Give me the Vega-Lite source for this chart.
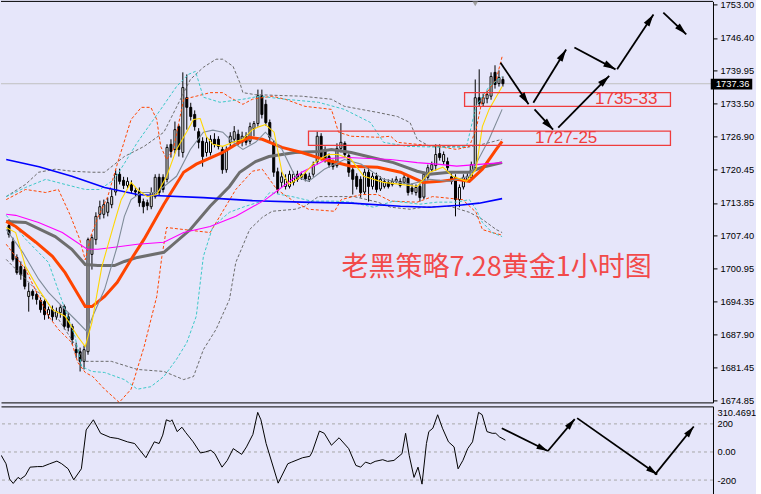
{
"$schema":"https://vega.github.io/schema/vega-lite/v6.json",
"background":"#e6e6fa",
"padding":{"left":0,"top":0.4,"right":0,"bottom":0},
"spacing":0,
"config":{"view":{"stroke":null},"axis":{"labelFont":"Liberation Sans","labelFontSize":9.3,"labelColor":"#000000","domainColor":"#000000","domainWidth":1,"tickColor":"#000000","tickSize":4,"tickWidth":1,"labelPadding":3,"grid":false,"minExtent":0,"titlePadding":0,"labelOverlap":false,"labelBound":false}},
"resolve":{"scale":{"x":"independent","y":"independent"}},
"datasets":{
"candles":[
{"i":0,"o":1709.4,"h":1710.6,"l":1707.0,"c":1707.6},
{"i":1,"o":1706.2,"h":1707.0,"l":1702.3,"c":1702.7},
{"i":2,"o":1703.1,"h":1703.7,"l":1699.7,"c":1700.1},
{"i":3,"o":1701.3,"h":1702.3,"l":1698.7,"c":1699.7},
{"i":4,"o":1700.7,"h":1701.3,"l":1696.8,"c":1697.4},
{"i":5,"o":1695.4,"h":1698.1,"l":1692.4,"c":1696.4},
{"i":6,"o":1696.4,"h":1696.8,"l":1694.8,"c":1695.6},
{"i":7,"o":1695.8,"h":1696.4,"l":1693.8,"c":1694.8},
{"i":8,"o":1694.6,"h":1695.2,"l":1692.2,"c":1692.8},
{"i":9,"o":1694.4,"h":1694.8,"l":1690.8,"c":1691.8},
{"i":10,"o":1691.8,"h":1693.4,"l":1691.0,"c":1692.8},
{"i":11,"o":1692.8,"h":1693.6,"l":1690.6,"c":1691.4},
{"i":12,"o":1691.4,"h":1693.2,"l":1690.8,"c":1692.4},
{"i":13,"o":1692.2,"h":1693.8,"l":1691.2,"c":1693.2},
{"i":14,"o":1693.4,"h":1693.8,"l":1688.9,"c":1689.5},
{"i":15,"o":1691.4,"h":1692.2,"l":1688.5,"c":1689.3},
{"i":16,"o":1689.5,"h":1690.0,"l":1685.9,"c":1686.9},
{"i":17,"o":1684.9,"h":1686.3,"l":1683.3,"c":1684.3},
{"i":18,"o":1684.5,"h":1685.3,"l":1680.6,"c":1682.6},
{"i":19,"o":1682.6,"h":1685.7,"l":1681.0,"c":1684.9},
{"i":20,"o":1684.5,"h":1707.0,"l":1683.9,"c":1706.6},
{"i":21,"o":1703.7,"h":1707.6,"l":1700.7,"c":1707.0},
{"i":22,"o":1706.6,"h":1712.0,"l":1705.6,"c":1711.2},
{"i":23,"o":1711.6,"h":1714.3,"l":1710.6,"c":1713.1},
{"i":24,"o":1711.6,"h":1714.5,"l":1710.8,"c":1713.5},
{"i":25,"o":1712.0,"h":1714.9,"l":1711.2,"c":1713.9},
{"i":26,"o":1713.5,"h":1716.5,"l":1712.8,"c":1715.1},
{"i":27,"o":1716.0,"h":1720.4,"l":1715.3,"c":1719.5},
{"i":28,"o":1719.5,"h":1720.6,"l":1717.5,"c":1718.1},
{"i":29,"o":1718.3,"h":1719.0,"l":1716.6,"c":1717.3},
{"i":30,"o":1717.3,"h":1718.9,"l":1716.8,"c":1718.1},
{"i":31,"o":1717.5,"h":1718.3,"l":1715.7,"c":1716.3},
{"i":32,"o":1716.3,"h":1717.0,"l":1715.2,"c":1716.0},
{"i":33,"o":1716.1,"h":1716.9,"l":1713.1,"c":1713.9},
{"i":34,"o":1714.1,"h":1714.7,"l":1711.8,"c":1713.1},
{"i":35,"o":1713.9,"h":1714.5,"l":1712.4,"c":1713.3},
{"i":36,"o":1713.1,"h":1716.9,"l":1712.6,"c":1715.9},
{"i":37,"o":1715.1,"h":1719.5,"l":1714.7,"c":1718.9},
{"i":38,"o":1718.9,"h":1719.6,"l":1715.3,"c":1715.9},
{"i":39,"o":1718.9,"h":1719.5,"l":1715.9,"c":1716.5},
{"i":40,"o":1718.5,"h":1725.4,"l":1717.9,"c":1724.8},
{"i":41,"o":1725.4,"h":1726.4,"l":1722.8,"c":1724.0},
{"i":42,"o":1724.4,"h":1729.9,"l":1723.6,"c":1728.3},
{"i":43,"o":1728.9,"h":1729.3,"l":1723.0,"c":1724.4},
{"i":44,"o":1723.8,"h":1739.6,"l":1722.8,"c":1736.6},
{"i":45,"o":1734.6,"h":1739.2,"l":1728.3,"c":1732.7},
{"i":46,"o":1732.7,"h":1733.6,"l":1730.1,"c":1730.9},
{"i":47,"o":1731.3,"h":1732.1,"l":1728.1,"c":1728.9},
{"i":48,"o":1727.9,"h":1728.6,"l":1724.6,"c":1725.8},
{"i":49,"o":1726.0,"h":1726.8,"l":1721.0,"c":1723.0},
{"i":50,"o":1723.8,"h":1726.8,"l":1723.0,"c":1725.8},
{"i":51,"o":1723.8,"h":1727.2,"l":1723.2,"c":1726.4},
{"i":52,"o":1726.4,"h":1727.6,"l":1724.8,"c":1725.4},
{"i":53,"o":1726.4,"h":1727.0,"l":1724.4,"c":1725.0},
{"i":54,"o":1724.4,"h":1725.0,"l":1719.6,"c":1720.4},
{"i":55,"o":1720.4,"h":1725.0,"l":1719.8,"c":1724.4},
{"i":56,"o":1725.8,"h":1727.8,"l":1724.8,"c":1727.0},
{"i":57,"o":1726.4,"h":1729.0,"l":1725.8,"c":1727.9},
{"i":58,"o":1727.4,"h":1728.3,"l":1725.2,"c":1725.8},
{"i":59,"o":1725.8,"h":1727.9,"l":1725.0,"c":1727.0},
{"i":60,"o":1727.0,"h":1727.8,"l":1725.2,"c":1725.8},
{"i":61,"o":1726.0,"h":1729.7,"l":1725.4,"c":1728.9},
{"i":62,"o":1728.5,"h":1730.0,"l":1727.0,"c":1729.5},
{"i":63,"o":1729.5,"h":1736.2,"l":1728.9,"c":1735.0},
{"i":64,"o":1735.0,"h":1736.2,"l":1730.5,"c":1731.3},
{"i":65,"o":1733.3,"h":1734.2,"l":1729.1,"c":1729.7},
{"i":66,"o":1729.7,"h":1730.3,"l":1726.0,"c":1726.8},
{"i":67,"o":1725.4,"h":1726.2,"l":1719.0,"c":1719.9},
{"i":68,"o":1720.0,"h":1720.8,"l":1715.7,"c":1716.5},
{"i":69,"o":1717.9,"h":1720.0,"l":1717.0,"c":1719.0},
{"i":70,"o":1717.1,"h":1719.5,"l":1716.5,"c":1718.5},
{"i":71,"o":1717.1,"h":1720.2,"l":1716.7,"c":1719.5},
{"i":72,"o":1717.9,"h":1720.0,"l":1717.3,"c":1719.5},
{"i":73,"o":1719.5,"h":1720.2,"l":1718.0,"c":1718.5},
{"i":74,"o":1718.9,"h":1720.0,"l":1718.4,"c":1719.4},
{"i":75,"o":1719.5,"h":1720.0,"l":1718.1,"c":1718.6},
{"i":76,"o":1718.5,"h":1719.8,"l":1718.0,"c":1719.1},
{"i":77,"o":1719.5,"h":1722.0,"l":1719.0,"c":1721.4},
{"i":78,"o":1722.0,"h":1727.9,"l":1721.4,"c":1727.0},
{"i":79,"o":1727.0,"h":1727.6,"l":1722.2,"c":1723.0},
{"i":80,"o":1724.4,"h":1725.0,"l":1721.8,"c":1722.4},
{"i":81,"o":1723.0,"h":1723.6,"l":1720.8,"c":1721.4},
{"i":82,"o":1721.8,"h":1722.4,"l":1720.4,"c":1721.0},
{"i":83,"o":1721.2,"h":1725.6,"l":1720.8,"c":1724.6},
{"i":84,"o":1724.6,"h":1729.6,"l":1723.8,"c":1725.8},
{"i":85,"o":1725.6,"h":1726.0,"l":1722.8,"c":1723.4},
{"i":86,"o":1723.2,"h":1723.6,"l":1719.0,"c":1719.9},
{"i":87,"o":1720.4,"h":1721.0,"l":1715.5,"c":1718.5},
{"i":88,"o":1719.1,"h":1719.7,"l":1716.5,"c":1717.1},
{"i":89,"o":1718.5,"h":1719.1,"l":1714.9,"c":1715.9},
{"i":90,"o":1716.0,"h":1720.6,"l":1715.5,"c":1719.9},
{"i":91,"o":1719.9,"h":1721.0,"l":1714.1,"c":1717.1},
{"i":92,"o":1717.1,"h":1719.8,"l":1716.5,"c":1719.1},
{"i":93,"o":1719.1,"h":1719.8,"l":1715.9,"c":1716.5},
{"i":94,"o":1716.6,"h":1719.1,"l":1716.2,"c":1718.5},
{"i":95,"o":1717.1,"h":1718.7,"l":1716.7,"c":1718.1},
{"i":96,"o":1717.9,"h":1718.5,"l":1716.7,"c":1717.1},
{"i":97,"o":1717.5,"h":1718.7,"l":1717.1,"c":1718.1},
{"i":98,"o":1718.1,"h":1719.1,"l":1717.7,"c":1718.5},
{"i":99,"o":1718.1,"h":1718.7,"l":1716.9,"c":1717.3},
{"i":100,"o":1717.9,"h":1719.5,"l":1717.5,"c":1718.9},
{"i":101,"o":1718.7,"h":1719.2,"l":1715.3,"c":1715.9},
{"i":102,"o":1716.8,"h":1717.7,"l":1715.5,"c":1716.1},
{"i":103,"o":1715.9,"h":1717.5,"l":1715.3,"c":1716.9},
{"i":104,"o":1717.1,"h":1717.7,"l":1714.1,"c":1714.9},
{"i":105,"o":1715.0,"h":1720.0,"l":1714.6,"c":1719.5},
{"i":106,"o":1718.9,"h":1721.4,"l":1718.3,"c":1720.8},
{"i":107,"o":1720.4,"h":1722.0,"l":1719.9,"c":1721.4},
{"i":108,"o":1721.2,"h":1725.4,"l":1720.2,"c":1723.4},
{"i":109,"o":1723.6,"h":1725.4,"l":1722.2,"c":1722.8},
{"i":110,"o":1722.0,"h":1724.0,"l":1721.4,"c":1723.4},
{"i":111,"o":1722.0,"h":1722.8,"l":1720.2,"c":1720.8},
{"i":112,"o":1719.0,"h":1719.7,"l":1717.5,"c":1718.1},
{"i":113,"o":1718.9,"h":1719.5,"l":1711.2,"c":1714.5},
{"i":114,"o":1714.5,"h":1717.5,"l":1713.0,"c":1716.9},
{"i":115,"o":1717.0,"h":1719.5,"l":1716.5,"c":1718.9},
{"i":116,"o":1718.5,"h":1719.7,"l":1718.0,"c":1719.1},
{"i":117,"o":1718.9,"h":1722.0,"l":1718.3,"c":1721.4},
{"i":118,"o":1720.8,"h":1738.2,"l":1720.2,"c":1734.6},
{"i":119,"o":1734.6,"h":1740.2,"l":1732.9,"c":1733.5},
{"i":120,"o":1733.5,"h":1735.4,"l":1732.9,"c":1734.6},
{"i":121,"o":1734.4,"h":1736.0,"l":1733.5,"c":1735.2},
{"i":122,"o":1734.9,"h":1739.6,"l":1734.2,"c":1738.8},
{"i":123,"o":1739.6,"h":1741.0,"l":1736.4,"c":1737.2},
{"i":124,"o":1737.4,"h":1740.0,"l":1736.8,"c":1738.6},
{"i":125,"o":1738.2,"h":1738.8,"l":1736.8,"c":1737.36}
],
"ind":[
{"s":"bbg_u","i":-0.7,"p":1715.1},{"s":"bbg_u","i":4.2,"p":1717.5},{"s":"bbg_u","i":7.5,"p":1719.9},{"s":"bbg_u","i":11.7,"p":1720.5},{"s":"bbg_u","i":15.9,"p":1720.1},{"s":"bbg_u","i":21.0,"p":1719.9},{"s":"bbg_u","i":24.2,"p":1719.9},{"s":"bbg_u","i":29.2,"p":1723.0},{"s":"bbg_u","i":34.2,"p":1725.0},{"s":"bbg_u","i":39.2,"p":1727.8},{"s":"bbg_u","i":43.4,"p":1734.3},{"s":"bbg_u","i":45.9,"p":1738.2},{"s":"bbg_u","i":49.2,"p":1740.6},{"s":"bbg_u","i":52.4,"p":1742.2},{"s":"bbg_u","i":54.1,"p":1742.2},{"s":"bbg_u","i":56.7,"p":1740.8},{"s":"bbg_u","i":58.4,"p":1737.6},{"s":"bbg_u","i":59.2,"p":1735.6},{"s":"bbg_u","i":62.4,"p":1735.2},{"s":"bbg_u","i":74.1,"p":1734.9},{"s":"bbg_u","i":81.6,"p":1734.3},{"s":"bbg_u","i":84.9,"p":1732.9},{"s":"bbg_u","i":93.3,"p":1731.7},{"s":"bbg_u","i":98.3,"p":1730.9},{"s":"bbg_u","i":101.5,"p":1729.7},{"s":"bbg_u","i":103.3,"p":1726.4},{"s":"bbg_u","i":106.5,"p":1725.0},{"s":"bbg_u","i":111.5,"p":1725.0},{"s":"bbg_u","i":115.8,"p":1724.8},{"s":"bbg_u","i":119.8,"p":1725.4},{"s":"bbg_u","i":124.8,"p":1726.4},
{"s":"bbg_l","i":-0.7,"p":1702.7},{"s":"bbg_l","i":9.3,"p":1694.8},{"s":"bbg_l","i":16.7,"p":1685.9},{"s":"bbg_l","i":19.3,"p":1682.6},{"s":"bbg_l","i":25.9,"p":1682.6},{"s":"bbg_l","i":32.5,"p":1681.0},{"s":"bbg_l","i":39.2,"p":1680.6},{"s":"bbg_l","i":44.2,"p":1679.0},{"s":"bbg_l","i":46.7,"p":1679.6},{"s":"bbg_l","i":49.2,"p":1684.9},{"s":"bbg_l","i":52.4,"p":1688.9},{"s":"bbg_l","i":55.8,"p":1694.8},{"s":"bbg_l","i":57.4,"p":1702.1},{"s":"bbg_l","i":60.9,"p":1708.6},{"s":"bbg_l","i":64.1,"p":1711.0},{"s":"bbg_l","i":66.6,"p":1712.2},{"s":"bbg_l","i":72.4,"p":1712.6},{"s":"bbg_l","i":74.9,"p":1713.2},{"s":"bbg_l","i":78.3,"p":1715.1},{"s":"bbg_l","i":87.3,"p":1715.1},{"s":"bbg_l","i":93.3,"p":1714.0},{"s":"bbg_l","i":96.6,"p":1713.0},{"s":"bbg_l","i":101.5,"p":1712.6},{"s":"bbg_l","i":104.8,"p":1713.0},{"s":"bbg_l","i":111.5,"p":1713.2},{"s":"bbg_l","i":116.5,"p":1712.0},{"s":"bbg_l","i":119.8,"p":1710.6},{"s":"bbg_l","i":123.3,"p":1708.6},{"s":"bbg_l","i":124.8,"p":1708.0},
{"s":"bbo_u","i":-0.7,"p":1714.5},{"s":"bbo_u","i":4.2,"p":1716.5},{"s":"bbo_u","i":9.3,"p":1715.9},{"s":"bbo_u","i":12.5,"p":1716.5},{"s":"bbo_u","i":15.4,"p":1711.6},{"s":"bbo_u","i":17.9,"p":1706.7},{"s":"bbo_u","i":19.3,"p":1702.6},{"s":"bbo_u","i":20.8,"p":1707.5},{"s":"bbo_u","i":22.5,"p":1711.0},{"s":"bbo_u","i":25.0,"p":1715.1},{"s":"bbo_u","i":27.4,"p":1721.5},{"s":"bbo_u","i":30.9,"p":1730.3},{"s":"bbo_u","i":33.5,"p":1732.7},{"s":"bbo_u","i":35.9,"p":1732.7},{"s":"bbo_u","i":37.4,"p":1730.3},{"s":"bbo_u","i":38.4,"p":1725.0},{"s":"bbo_u","i":39.9,"p":1722.4},{"s":"bbo_u","i":41.6,"p":1724.4},{"s":"bbo_u","i":44.2,"p":1734.3},{"s":"bbo_u","i":47.4,"p":1734.9},{"s":"bbo_u","i":50.9,"p":1735.6},{"s":"bbo_u","i":54.1,"p":1735.6},{"s":"bbo_u","i":55.8,"p":1734.7},{"s":"bbo_u","i":59.2,"p":1733.3},{"s":"bbo_u","i":61.6,"p":1734.3},{"s":"bbo_u","i":66.6,"p":1734.9},{"s":"bbo_u","i":69.9,"p":1734.3},{"s":"bbo_u","i":74.9,"p":1732.9},{"s":"bbo_u","i":81.6,"p":1732.3},{"s":"bbo_u","i":83.4,"p":1727.8},{"s":"bbo_u","i":86.6,"p":1727.0},{"s":"bbo_u","i":93.3,"p":1726.8},{"s":"bbo_u","i":96.6,"p":1727.0},{"s":"bbo_u","i":98.3,"p":1725.8},{"s":"bbo_u","i":103.3,"p":1725.4},{"s":"bbo_u","i":108.3,"p":1725.0},{"s":"bbo_u","i":113.3,"p":1724.4},{"s":"bbo_u","i":116.5,"p":1725.0},{"s":"bbo_u","i":118.2,"p":1728.3},{"s":"bbo_u","i":119.8,"p":1734.3},{"s":"bbo_u","i":123.3,"p":1738.2},{"s":"bbo_u","i":124.8,"p":1742.7},
{"s":"bbo_l","i":-0.7,"p":1705.7},{"s":"bbo_l","i":4.2,"p":1700.7},{"s":"bbo_l","i":7.5,"p":1695.4},{"s":"bbo_l","i":10.0,"p":1691.5},{"s":"bbo_l","i":12.5,"p":1688.9},{"s":"bbo_l","i":15.9,"p":1686.3},{"s":"bbo_l","i":17.4,"p":1682.4},{"s":"bbo_l","i":19.3,"p":1680.4},{"s":"bbo_l","i":21.2,"p":1679.6},{"s":"bbo_l","i":24.2,"p":1677.1},{"s":"bbo_l","i":27.9,"p":1674.5},{"s":"bbo_l","i":30.9,"p":1677.1},{"s":"bbo_l","i":34.2,"p":1685.5},{"s":"bbo_l","i":37.4,"p":1695.4},{"s":"bbo_l","i":38.7,"p":1703.3},{"s":"bbo_l","i":39.9,"p":1709.0},{"s":"bbo_l","i":44.2,"p":1708.6},{"s":"bbo_l","i":50.9,"p":1708.0},{"s":"bbo_l","i":57.4,"p":1716.5},{"s":"bbo_l","i":61.6,"p":1720.1},{"s":"bbo_l","i":64.1,"p":1720.5},{"s":"bbo_l","i":67.8,"p":1716.5},{"s":"bbo_l","i":72.4,"p":1714.0},{"s":"bbo_l","i":75.8,"p":1712.6},{"s":"bbo_l","i":82.4,"p":1712.2},{"s":"bbo_l","i":84.1,"p":1714.5},{"s":"bbo_l","i":89.1,"p":1715.5},{"s":"bbo_l","i":93.3,"p":1715.5},{"s":"bbo_l","i":96.6,"p":1714.2},{"s":"bbo_l","i":103.3,"p":1714.0},{"s":"bbo_l","i":107.2,"p":1715.1},{"s":"bbo_l","i":114.8,"p":1714.5},{"s":"bbo_l","i":118.2,"p":1712.0},{"s":"bbo_l","i":119.8,"p":1708.6},{"s":"bbo_l","i":122.3,"p":1708.0},{"s":"bbo_l","i":124.8,"p":1707.5},
{"s":"bbc_u","i":-0.7,"p":1715.1},{"s":"bbc_u","i":4.2,"p":1716.9},{"s":"bbc_u","i":9.3,"p":1718.5},{"s":"bbc_u","i":14.2,"p":1717.5},{"s":"bbc_u","i":19.3,"p":1716.5},{"s":"bbc_u","i":23.0,"p":1716.5},{"s":"bbc_u","i":26.7,"p":1718.5},{"s":"bbc_u","i":32.5,"p":1725.8},{"s":"bbc_u","i":38.4,"p":1732.3},{"s":"bbc_u","i":42.4,"p":1736.8},{"s":"bbc_u","i":45.4,"p":1739.2},{"s":"bbc_u","i":47.2,"p":1739.8},{"s":"bbc_u","i":49.2,"p":1734.7},{"s":"bbc_u","i":53.4,"p":1733.7},{"s":"bbc_u","i":59.2,"p":1734.3},{"s":"bbc_u","i":63.4,"p":1734.9},{"s":"bbc_u","i":69.9,"p":1734.3},{"s":"bbc_u","i":78.3,"p":1733.7},{"s":"bbc_u","i":84.9,"p":1732.3},{"s":"bbc_u","i":91.5,"p":1729.7},{"s":"bbc_u","i":94.8,"p":1725.8},{"s":"bbc_u","i":100.8,"p":1725.0},{"s":"bbc_u","i":111.5,"p":1724.8},{"s":"bbc_u","i":115.8,"p":1725.0},{"s":"bbc_u","i":118.2,"p":1732.9},{"s":"bbc_u","i":121.5,"p":1736.8},{"s":"bbc_u","i":124.8,"p":1738.8},
{"s":"bbc_l","i":-0.7,"p":1711.4},{"s":"bbc_l","i":4.2,"p":1706.7},{"s":"bbc_l","i":10.0,"p":1702.1},{"s":"bbc_l","i":14.2,"p":1692.8},{"s":"bbc_l","i":16.7,"p":1687.5},{"s":"bbc_l","i":18.4,"p":1681.6},{"s":"bbc_l","i":21.0,"p":1680.6},{"s":"bbc_l","i":24.2,"p":1680.4},{"s":"bbc_l","i":29.2,"p":1679.0},{"s":"bbc_l","i":32.5,"p":1677.1},{"s":"bbc_l","i":35.9,"p":1677.6},{"s":"bbc_l","i":39.2,"p":1679.6},{"s":"bbc_l","i":42.4,"p":1683.0},{"s":"bbc_l","i":45.0,"p":1686.3},{"s":"bbc_l","i":47.4,"p":1691.5},{"s":"bbc_l","i":49.2,"p":1703.3},{"s":"bbc_l","i":51.6,"p":1709.2},{"s":"bbc_l","i":55.8,"p":1712.0},{"s":"bbc_l","i":59.9,"p":1713.2},{"s":"bbc_l","i":64.1,"p":1714.2},{"s":"bbc_l","i":66.0,"p":1715.9},{"s":"bbc_l","i":71.6,"p":1715.1},{"s":"bbc_l","i":76.6,"p":1714.2},{"s":"bbc_l","i":82.4,"p":1714.2},{"s":"bbc_l","i":86.6,"p":1714.0},{"s":"bbc_l","i":92.3,"p":1713.0},{"s":"bbc_l","i":97.3,"p":1714.2},{"s":"bbc_l","i":104.0,"p":1713.6},{"s":"bbc_l","i":108.3,"p":1714.0},{"s":"bbc_l","i":113.3,"p":1714.0},{"s":"bbc_l","i":116.5,"p":1714.5},{"s":"bbc_l","i":118.2,"p":1712.6},{"s":"bbc_l","i":119.8,"p":1710.0},{"s":"bbc_l","i":122.3,"p":1708.0},{"s":"bbc_l","i":124.8,"p":1707.2},
{"s":"ma_d","i":-0.7,"p":1710.2},{"s":"ma_d","i":4.2,"p":1710.0},{"s":"ma_d","i":11.7,"p":1707.2},{"s":"ma_d","i":15.9,"p":1704.7},{"s":"ma_d","i":19.3,"p":1701.7},{"s":"ma_d","i":22.5,"p":1701.5},{"s":"ma_d","i":26.7,"p":1701.5},{"s":"ma_d","i":29.2,"p":1702.3},{"s":"ma_d","i":32.5,"p":1703.1},{"s":"ma_d","i":39.2,"p":1704.1},{"s":"ma_d","i":45.9,"p":1708.6},{"s":"ma_d","i":50.9,"p":1713.2},{"s":"ma_d","i":55.8,"p":1717.1},{"s":"ma_d","i":58.4,"p":1719.9},{"s":"ma_d","i":62.4,"p":1722.0},{"s":"ma_d","i":65.8,"p":1723.0},{"s":"ma_d","i":72.4,"p":1723.8},{"s":"ma_d","i":78.3,"p":1724.0},{"s":"ma_d","i":81.6,"p":1724.4},{"s":"ma_d","i":86.6,"p":1723.8},{"s":"ma_d","i":90.8,"p":1723.0},{"s":"ma_d","i":97.3,"p":1721.8},{"s":"ma_d","i":103.3,"p":1720.1},{"s":"ma_d","i":106.5,"p":1719.5},{"s":"ma_d","i":111.5,"p":1719.9},{"s":"ma_d","i":116.5,"p":1719.9},{"s":"ma_d","i":119.8,"p":1720.9},{"s":"ma_d","i":124.8,"p":1721.8},
{"s":"ma_o","i":-0.7,"p":1710.2},{"s":"ma_o","i":1.7,"p":1709.2},{"s":"ma_o","i":6.8,"p":1706.1},{"s":"ma_o","i":11.0,"p":1703.3},{"s":"ma_o","i":14.2,"p":1700.1},{"s":"ma_o","i":16.7,"p":1696.8},{"s":"ma_o","i":19.3,"p":1693.4},{"s":"ma_o","i":21.0,"p":1693.4},{"s":"ma_o","i":24.2,"p":1695.4},{"s":"ma_o","i":27.4,"p":1698.2},{"s":"ma_o","i":30.9,"p":1702.7},{"s":"ma_o","i":34.2,"p":1706.7},{"s":"ma_o","i":39.2,"p":1713.6},{"s":"ma_o","i":44.2,"p":1719.9},{"s":"ma_o","i":47.4,"p":1721.5},{"s":"ma_o","i":54.1,"p":1723.8},{"s":"ma_o","i":57.4,"p":1725.4},{"s":"ma_o","i":60.9,"p":1726.8},{"s":"ma_o","i":64.1,"p":1726.4},{"s":"ma_o","i":69.1,"p":1724.8},{"s":"ma_o","i":74.1,"p":1723.8},{"s":"ma_o","i":79.8,"p":1722.4},{"s":"ma_o","i":86.6,"p":1721.1},{"s":"ma_o","i":93.3,"p":1720.9},{"s":"ma_o","i":99.1,"p":1719.9},{"s":"ma_o","i":104.8,"p":1717.9},{"s":"ma_o","i":109.1,"p":1718.1},{"s":"ma_o","i":113.3,"p":1718.5},{"s":"ma_o","i":116.5,"p":1718.1},{"s":"ma_o","i":119.8,"p":1720.5},{"s":"ma_o","i":123.3,"p":1724.4},{"s":"ma_o","i":124.8,"p":1726.0},
{"s":"ma_b","i":-0.7,"p":1722.4},{"s":"ma_b","i":7.6,"p":1721.0},{"s":"ma_b","i":15.9,"p":1719.1},{"s":"ma_b","i":24.2,"p":1716.9},{"s":"ma_b","i":32.5,"p":1715.5},{"s":"ma_b","i":36.7,"p":1715.3},{"s":"ma_b","i":49.2,"p":1714.9},{"s":"ma_b","i":61.6,"p":1714.3},{"s":"ma_b","i":74.1,"p":1714.0},{"s":"ma_b","i":86.6,"p":1713.8},{"s":"ma_b","i":99.1,"p":1713.2},{"s":"ma_b","i":106.5,"p":1713.0},{"s":"ma_b","i":114.0,"p":1713.4},{"s":"ma_b","i":119.0,"p":1713.8},{"s":"ma_b","i":124.8,"p":1714.7},
{"s":"ma_m","i":-0.7,"p":1711.6},{"s":"ma_m","i":1.7,"p":1711.4},{"s":"ma_m","i":7.5,"p":1710.0},{"s":"ma_m","i":13.5,"p":1708.0},{"s":"ma_m","i":19.8,"p":1704.7},{"s":"ma_m","i":22.5,"p":1704.7},{"s":"ma_m","i":26.7,"p":1705.1},{"s":"ma_m","i":32.5,"p":1705.7},{"s":"ma_m","i":39.2,"p":1706.1},{"s":"ma_m","i":44.2,"p":1708.0},{"s":"ma_m","i":50.9,"p":1709.2},{"s":"ma_m","i":57.4,"p":1711.2},{"s":"ma_m","i":64.9,"p":1714.5},{"s":"ma_m","i":74.1,"p":1719.9},{"s":"ma_m","i":80.8,"p":1722.6},{"s":"ma_m","i":85.8,"p":1722.8},{"s":"ma_m","i":96.6,"p":1722.4},{"s":"ma_m","i":103.3,"p":1721.8},{"s":"ma_m","i":108.3,"p":1721.5},{"s":"ma_m","i":113.3,"p":1721.1},{"s":"ma_m","i":119.8,"p":1721.5},{"s":"ma_m","i":124.8,"p":1721.8},
{"s":"ma_g","i":-0.7,"p":1708.6},{"s":"ma_g","i":3.5,"p":1704.1},{"s":"ma_g","i":7.5,"p":1698.8},{"s":"ma_g","i":10.0,"p":1696.2},{"s":"ma_g","i":13.5,"p":1693.4},{"s":"ma_g","i":16.7,"p":1690.9},{"s":"ma_g","i":19.7,"p":1688.5},{"s":"ma_g","i":21.2,"p":1691.5},{"s":"ma_g","i":24.2,"p":1696.8},{"s":"ma_g","i":27.4,"p":1705.3},{"s":"ma_g","i":29.2,"p":1711.2},{"s":"ma_g","i":30.9,"p":1714.5},{"s":"ma_g","i":33.5,"p":1715.9},{"s":"ma_g","i":37.4,"p":1715.9},{"s":"ma_g","i":42.4,"p":1719.1},{"s":"ma_g","i":45.9,"p":1724.4},{"s":"ma_g","i":49.2,"p":1727.8},{"s":"ma_g","i":51.6,"p":1728.2},{"s":"ma_g","i":54.1,"p":1727.8},{"s":"ma_g","i":56.7,"p":1725.8},{"s":"ma_g","i":59.2,"p":1724.4},{"s":"ma_g","i":62.4,"p":1725.8},{"s":"ma_g","i":64.9,"p":1727.8},{"s":"ma_g","i":69.1,"p":1724.4},{"s":"ma_g","i":72.4,"p":1719.1},{"s":"ma_g","i":75.8,"p":1718.1},{"s":"ma_g","i":79.8,"p":1720.5},{"s":"ma_g","i":84.9,"p":1722.4},{"s":"ma_g","i":89.1,"p":1721.5},{"s":"ma_g","i":94.8,"p":1718.5},{"s":"ma_g","i":101.5,"p":1717.5},{"s":"ma_g","i":106.5,"p":1718.5},{"s":"ma_g","i":111.5,"p":1718.1},{"s":"ma_g","i":116.5,"p":1719.1},{"s":"ma_g","i":121.5,"p":1726.4},{"s":"ma_g","i":124.8,"p":1732.3},
{"s":"ma_y","i":-0.7,"p":1709.0},{"s":"ma_y","i":1.7,"p":1708.0},{"s":"ma_y","i":4.2,"p":1701.3},{"s":"ma_y","i":7.5,"p":1696.8},{"s":"ma_y","i":11.0,"p":1692.8},{"s":"ma_y","i":14.2,"p":1691.5},{"s":"ma_y","i":17.4,"p":1687.5},{"s":"ma_y","i":19.3,"p":1685.5},{"s":"ma_y","i":21.0,"p":1690.3},{"s":"ma_y","i":23.5,"p":1701.3},{"s":"ma_y","i":26.7,"p":1710.0},{"s":"ma_y","i":28.4,"p":1714.5},{"s":"ma_y","i":30.9,"p":1717.9},{"s":"ma_y","i":32.5,"p":1716.5},{"s":"ma_y","i":35.0,"p":1715.1},{"s":"ma_y","i":37.4,"p":1715.5},{"s":"ma_y","i":39.9,"p":1719.1},{"s":"ma_y","i":42.4,"p":1724.4},{"s":"ma_y","i":45.0,"p":1727.9},{"s":"ma_y","i":46.7,"p":1730.3},{"s":"ma_y","i":48.4,"p":1730.5},{"s":"ma_y","i":49.9,"p":1727.0},{"s":"ma_y","i":51.6,"p":1725.4},{"s":"ma_y","i":54.1,"p":1725.0},{"s":"ma_y","i":56.7,"p":1725.8},{"s":"ma_y","i":59.2,"p":1726.4},{"s":"ma_y","i":61.6,"p":1728.3},{"s":"ma_y","i":63.4,"p":1728.9},{"s":"ma_y","i":64.9,"p":1729.3},{"s":"ma_y","i":67.1,"p":1727.8},{"s":"ma_y","i":69.1,"p":1719.9},{"s":"ma_y","i":70.9,"p":1717.5},{"s":"ma_y","i":74.1,"p":1719.1},{"s":"ma_y","i":77.3,"p":1721.8},{"s":"ma_y","i":80.8,"p":1723.4},{"s":"ma_y","i":83.3,"p":1723.4},{"s":"ma_y","i":86.6,"p":1722.4},{"s":"ma_y","i":89.8,"p":1719.1},{"s":"ma_y","i":94.8,"p":1717.9},{"s":"ma_y","i":99.1,"p":1717.5},{"s":"ma_y","i":103.3,"p":1717.1},{"s":"ma_y","i":106.5,"p":1719.9},{"s":"ma_y","i":109.8,"p":1720.9},{"s":"ma_y","i":112.3,"p":1719.1},{"s":"ma_y","i":115.8,"p":1718.1},{"s":"ma_y","i":118.2,"p":1720.5},{"s":"ma_y","i":119.8,"p":1728.9},{"s":"ma_y","i":121.5,"p":1732.3},{"s":"ma_y","i":124.8,"p":1736.8}
],
"cci":[
{"i":-0.7,"v":-24},{"i":0.5,"v":-84},{"i":1.4,"v":-193},{"i":2.3,"v":-224},{"i":3.5,"v":-181},{"i":4.1,"v":-193},{"i":5.3,"v":-169},{"i":6.5,"v":-108},{"i":8.4,"v":-104},{"i":9.6,"v":-104},{"i":11.4,"v":-84},{"i":13.2,"v":-65},{"i":14.4,"v":-84},{"i":16.0,"v":-120},{"i":17.4,"v":-198},{"i":19.3,"v":-120},{"i":20.5,"v":157},{"i":22.3,"v":229},{"i":24.1,"v":133},{"i":26.5,"v":104},{"i":28.4,"v":96},{"i":30.8,"v":72},{"i":32.6,"v":60},{"i":35.4,"v":-41},{"i":37.5,"v":72},{"i":38.7,"v":60},{"i":39.6,"v":120},{"i":40.5,"v":229},{"i":41.5,"v":217},{"i":41.9,"v":229},{"i":43.2,"v":145},{"i":44.4,"v":176},{"i":45.3,"v":140},{"i":47.2,"v":72},{"i":49.0,"v":-7},{"i":50.2,"v":0},{"i":51.6,"v":12},{"i":52.6,"v":-12},{"i":54.4,"v":-108},{"i":55.7,"v":-60},{"i":57.2,"v":24},{"i":59.3,"v":-17},{"i":60.5,"v":36},{"i":62.1,"v":125},{"i":63.3,"v":282},{"i":64.1,"v":229},{"i":65.4,"v":60},{"i":68.4,"v":-222},{"i":70.8,"v":-84},{"i":71.8,"v":-72},{"i":74.5,"v":-41},{"i":76.3,"v":-31},{"i":76.9,"v":0},{"i":78.7,"v":149},{"i":79.9,"v":133},{"i":81.7,"v":48},{"i":83.6,"v":101},{"i":86.0,"v":24},{"i":87.8,"v":-96},{"i":89.0,"v":-108},{"i":90.2,"v":-72},{"i":91.4,"v":-84},{"i":92.6,"v":-67},{"i":94.5,"v":-55},{"i":95.7,"v":-67},{"i":97.3,"v":-60},{"i":99.3,"v":-12},{"i":100.2,"v":133},{"i":101.1,"v":-24},{"i":102.3,"v":-181},{"i":103.3,"v":-108},{"i":104.3,"v":-229},{"i":105.4,"v":60},{"i":106.0,"v":145},{"i":107.0,"v":169},{"i":108.2,"v":265},{"i":109.4,"v":169},{"i":110.9,"v":72},{"i":112.3,"v":36},{"i":113.3,"v":-120},{"i":114.5,"v":-60},{"i":115.7,"v":24},{"i":116.9,"v":72},{"i":118.4,"v":282},{"i":119.3,"v":265},{"i":120.5,"v":145},{"i":121.8,"v":133},{"i":122.7,"v":133},{"i":123.6,"v":108},{"i":125.1,"v":84}
],
"levels":[{"v":200},{"v":0},{"v":-200}],
"arrows":[
{"a":1,"i":124.4,"p":1741.5},{"a":1,"i":131.5,"p":1733.3},
{"a":2,"i":132.7,"p":1733.6},{"a":2,"i":141.0,"p":1744.1},
{"a":3,"i":143.1,"p":1744.5},{"a":3,"i":153.5,"p":1740.2},
{"a":4,"i":133.0,"p":1732.3},{"a":4,"i":137.7,"p":1728.3},
{"a":5,"i":139.0,"p":1728.7},{"a":5,"i":151.9,"p":1738.9},
{"a":6,"i":153.9,"p":1740.2},{"a":6,"i":163.1,"p":1751.0},
{"a":7,"i":165.6,"p":1751.4},{"a":7,"i":171.4,"p":1747.1}
],
"heads":[
{"i":131.5,"p":1733.3,"ang":146},{"i":141.0,"p":1744.1,"ang":32},{"i":153.5,"p":1740.2,"ang":118},{"i":137.7,"p":1728.3,"ang":136},{"i":151.9,"p":1738.9,"ang":46},{"i":163.1,"p":1751.0,"ang":34},{"i":171.4,"p":1747.1,"ang":134}
],
"carrows":[
{"a":"A","i":124.2,"v":169},{"a":"A","i":135.7,"v":7},
{"a":"B","i":135.7,"v":7},{"a":"B","i":142.4,"v":234},
{"a":"C","i":143.0,"v":241},{"a":"C","i":163.0,"v":-161},
{"a":"D","i":162.4,"v":-161},{"a":"D","i":172.1,"v":181}
],
"cheads":[
{"i":135.7,"v":7,"ang":116},{"i":142.4,"v":234,"ang":40},{"i":163.0,"v":-161,"ang":125},{"i":172.1,"v":181,"ang":39}
],
"boxes":[
{"i":115.3,"i2":167.4,"p":1732.9,"p2":1735.6},
{"i":75.8,"i2":167.4,"p":1725.2,"p2":1728.0}
],
"notes":[
{"i":156.2,"p":1734.3,"t":"1735-33"},
{"i":141.0,"p":1726.6,"t":"1727-25"}
],
"caption":[{"i":123.4,"p":1701.0,"t":"老黑策略7.28黄金1小时图"}],
"last":[{"i":177.6,"i2":188.1,"p":1736.24,"p2":1738.35,"q":1737.36,"ti":178.9,"t":"1737.36"}]
},
"vconcat":[
{
"width":712,"height":401,
"layer":[
{"data":{"values":[{}]},"mark":{"type":"rule","color":"#c0c0c0","strokeWidth":1},
 "encoding":{"y":{"datum":1737.36,"type":"quantitative","title":null,"scale":{"domain":[1674.5,1753.6],"nice":false,"zero":false}}}},
{"data":{"name":"candles"},"mark":{"type":"rule","color":"#000000","strokeWidth":1,"clip":true},
 "encoding":{
  "x":{"field":"i","type":"quantitative","title":null,"scale":{"domain":[-0.75,176.9],"nice":false,"zero":false},"axis":{"orient":"bottom","labels":false,"ticks":false,"domain":true,"title":null}},
  "y":{"field":"l","type":"quantitative","title":null,"scale":{"domain":[1674.5,1753.6],"nice":false,"zero":false},"axis":{"orient":"right","values":[1753.00,1746.40,1739.95,1733.50,1726.90,1720.45,1713.85,1707.40,1700.95,1694.35,1687.90,1681.45,1674.85],"tickCount":30,"format":".2f","title":null,"labelOverlap":false,"labelBound":false}},
  "y2":{"field":"h"}}},
{"data":{"name":"candles"},"mark":{"type":"bar","width":2,"stroke":"#000000","strokeWidth":1,"orient":"vertical","clip":true},
 "encoding":{
  "x":{"field":"i","type":"quantitative","title":null,"scale":{"domain":[-0.75,176.9],"nice":false,"zero":false}},
  "y":{"field":"o","type":"quantitative","title":null,"scale":{"domain":[1674.5,1753.6],"nice":false,"zero":false}},
  "y2":{"field":"c"},
  "fill":{"condition":{"test":"datum.o < datum.c","value":"#ffffff"},"value":"#000000"}}},
{"data":{"name":"ind"},"transform":[{"filter":{"field":"s","oneOf":["bbg_u","bbg_l","bbo_u","bbo_l","bbc_u","bbc_l"]}}],
 "mark":{"type":"line","strokeWidth":1,"strokeDash":[3,2],"clip":true},
 "encoding":{
  "x":{"field":"i","type":"quantitative","title":null,"scale":{"domain":[-0.75,176.9],"nice":false,"zero":false}},
  "y":{"field":"p","type":"quantitative","title":null,"scale":{"domain":[1674.5,1753.6],"nice":false,"zero":false}},
  "color":{"field":"s","type":"nominal","scale":{"domain":["bbg_u","bbg_l","bbo_u","bbo_l","bbc_u","bbc_l","ma_d","ma_o","ma_b","ma_m","ma_g","ma_y"],"range":["#6a6a6a","#6a6a6a","#ff4500","#ff4500","#3cc8c8","#3cc8c8","#6e6e6e","#ff4500","#0000ff","#ff00ff","#7f8c99","#ffd700"]},"legend":null}}},
{"data":{"name":"ind"},"transform":[{"filter":{"field":"s","oneOf":["ma_d","ma_o"]}}],
 "mark":{"type":"line","strokeWidth":3,"clip":true},
 "encoding":{
  "x":{"field":"i","type":"quantitative","title":null,"scale":{"domain":[-0.75,176.9],"nice":false,"zero":false}},
  "y":{"field":"p","type":"quantitative","title":null,"scale":{"domain":[1674.5,1753.6],"nice":false,"zero":false}},
  "color":{"field":"s","type":"nominal","scale":{"domain":["bbg_u","bbg_l","bbo_u","bbo_l","bbc_u","bbc_l","ma_d","ma_o","ma_b","ma_m","ma_g","ma_y"],"range":["#6a6a6a","#6a6a6a","#ff4500","#ff4500","#3cc8c8","#3cc8c8","#6e6e6e","#ff4500","#0000ff","#ff00ff","#7f8c99","#ffd700"]},"legend":null}}},
{"data":{"name":"ind"},"transform":[{"filter":{"field":"s","oneOf":["ma_b"]}}],
 "mark":{"type":"line","strokeWidth":1.6,"clip":true},
 "encoding":{
  "x":{"field":"i","type":"quantitative","title":null,"scale":{"domain":[-0.75,176.9],"nice":false,"zero":false}},
  "y":{"field":"p","type":"quantitative","title":null,"scale":{"domain":[1674.5,1753.6],"nice":false,"zero":false}},
  "color":{"field":"s","type":"nominal","scale":{"domain":["bbg_u","bbg_l","bbo_u","bbo_l","bbc_u","bbc_l","ma_d","ma_o","ma_b","ma_m","ma_g","ma_y"],"range":["#6a6a6a","#6a6a6a","#ff4500","#ff4500","#3cc8c8","#3cc8c8","#6e6e6e","#ff4500","#0000ff","#ff00ff","#7f8c99","#ffd700"]},"legend":null}}},
{"data":{"name":"ind"},"transform":[{"filter":{"field":"s","oneOf":["ma_m","ma_g","ma_y"]}}],
 "mark":{"type":"line","strokeWidth":1.1,"clip":true},
 "encoding":{
  "x":{"field":"i","type":"quantitative","title":null,"scale":{"domain":[-0.75,176.9],"nice":false,"zero":false}},
  "y":{"field":"p","type":"quantitative","title":null,"scale":{"domain":[1674.5,1753.6],"nice":false,"zero":false}},
  "color":{"field":"s","type":"nominal","scale":{"domain":["bbg_u","bbg_l","bbo_u","bbo_l","bbc_u","bbc_l","ma_d","ma_o","ma_b","ma_m","ma_g","ma_y"],"range":["#6a6a6a","#6a6a6a","#ff4500","#ff4500","#3cc8c8","#3cc8c8","#6e6e6e","#ff4500","#0000ff","#ff00ff","#7f8c99","#ffd700"]},"legend":null}}},
{"data":{"name":"boxes"},"mark":{"type":"rect","fill":"transparent","stroke":"#f03c3c","strokeWidth":1.3,"clip":true},
 "encoding":{
  "x":{"field":"i","type":"quantitative","title":null,"scale":{"domain":[-0.75,176.9],"nice":false,"zero":false}},
  "x2":{"field":"i2"},
  "y":{"field":"p","type":"quantitative","title":null,"scale":{"domain":[1674.5,1753.6],"nice":false,"zero":false}},
  "y2":{"field":"p2"}}},
{"data":{"name":"notes"},"mark":{"type":"text","font":"Liberation Sans","fontSize":17,"color":"#f03c3c","align":"center","baseline":"middle"},
 "encoding":{
  "x":{"field":"i","type":"quantitative","title":null,"scale":{"domain":[-0.75,176.9],"nice":false,"zero":false}},
  "y":{"field":"p","type":"quantitative","title":null,"scale":{"domain":[1674.5,1753.6],"nice":false,"zero":false}},
  "text":{"field":"t"}}},
{"data":{"name":"caption"},"mark":{"type":"text","font":"Noto Sans CJK SC","fontSize":27,"color":"#f24a4a","align":"center","baseline":"middle"},
 "encoding":{
  "x":{"field":"i","type":"quantitative","title":null,"scale":{"domain":[-0.75,176.9],"nice":false,"zero":false}},
  "y":{"field":"p","type":"quantitative","title":null,"scale":{"domain":[1674.5,1753.6],"nice":false,"zero":false}},
  "text":{"field":"t"}}},
{"data":{"name":"arrows"},"mark":{"type":"line","color":"#000000","strokeWidth":1.8,"clip":true},
 "encoding":{
  "x":{"field":"i","type":"quantitative","title":null,"scale":{"domain":[-0.75,176.9],"nice":false,"zero":false}},
  "y":{"field":"p","type":"quantitative","title":null,"scale":{"domain":[1674.5,1753.6],"nice":false,"zero":false}},
  "detail":{"field":"a","type":"nominal"}}},
{"data":{"name":"heads"},"mark":{"type":"point","shape":"M0,0L0.55,2L-0.55,2Z","filled":true,"color":"#000000","size":150,"opacity":1,"strokeWidth":0},
 "encoding":{
  "x":{"field":"i","type":"quantitative","title":null,"scale":{"domain":[-0.75,176.9],"nice":false,"zero":false}},
  "y":{"field":"p","type":"quantitative","title":null,"scale":{"domain":[1674.5,1753.6],"nice":false,"zero":false}},
  "angle":{"field":"ang","type":"quantitative","scale":null}}},
{"data":{"values":[{}]},"mark":{"type":"rule","color":"#000000","strokeWidth":1},
 "encoding":{"y":{"datum":1753.6,"type":"quantitative","title":null,"scale":{"domain":[1674.5,1753.6],"nice":false,"zero":false}}}},
{"data":{"values":[{"i":118.0,"p":1753.1}]},"mark":{"type":"point","shape":"triangle-down","filled":true,"color":"#a0a0a0","size":30,"opacity":1},
 "encoding":{
  "x":{"field":"i","type":"quantitative","title":null,"scale":{"domain":[-0.75,176.9],"nice":false,"zero":false}},
  "y":{"field":"p","type":"quantitative","title":null,"scale":{"domain":[1674.5,1753.6],"nice":false,"zero":false}}}},
{"data":{"name":"last"},"mark":{"type":"rect","color":"#000000","clip":false},
 "encoding":{
  "x":{"field":"i","type":"quantitative","title":null,"scale":{"domain":[-0.75,176.9],"nice":false,"zero":false}},
  "x2":{"field":"i2"},
  "y":{"field":"p","type":"quantitative","title":null,"scale":{"domain":[1674.5,1753.6],"nice":false,"zero":false}},
  "y2":{"field":"p2"}}},
{"data":{"name":"last"},"mark":{"type":"text","font":"Liberation Sans","fontSize":9.3,"color":"#ffffff","align":"left","baseline":"middle","clip":false},
 "encoding":{
  "x":{"field":"ti","type":"quantitative","title":null,"scale":{"domain":[-0.75,176.9],"nice":false,"zero":false}},
  "y":{"field":"q","type":"quantitative","title":null,"scale":{"domain":[1674.5,1753.6],"nice":false,"zero":false}},
  "text":{"field":"t"}}}
]
},
{
"width":712,"height":88,
"layer":[
{"data":{"name":"levels"},"mark":{"type":"rule","color":"#a8a8a8","strokeWidth":1,"strokeDash":[3,3]},
 "encoding":{"y":{"field":"v","type":"quantitative","title":null,"scale":{"domain":[-302,324.5],"nice":false,"zero":false}}}},
{"data":{"name":"cci"},"mark":{"type":"line","color":"#000000","strokeWidth":1,"clip":true},
 "encoding":{
  "x":{"field":"i","type":"quantitative","title":null,"scale":{"domain":[-0.75,176.9],"nice":false,"zero":false},"axis":{"orient":"top","labels":false,"ticks":false,"domain":true,"title":null}},
  "y":{"field":"v","type":"quantitative","title":null,"scale":{"domain":[-302,324.5],"nice":false,"zero":false},"axis":{"orient":"right","values":[310.4691,200,0,-200],"tickCount":30,"ticks":false,"labelPadding":4,"labelOverlap":false,"labelBound":false,"labelExpr":"datum.value > 300 ? '310.4691' : datum.value > 100 ? '200' : datum.value < -100 ? '-200' : '0.00'","labelBaseline":{"condition":{"test":"datum.value > 300","value":"top"},"value":"middle"},"title":null}}}},
{"data":{"name":"carrows"},"mark":{"type":"line","color":"#000000","strokeWidth":1.8,"clip":true},
 "encoding":{
  "x":{"field":"i","type":"quantitative","title":null,"scale":{"domain":[-0.75,176.9],"nice":false,"zero":false}},
  "y":{"field":"v","type":"quantitative","title":null,"scale":{"domain":[-302,324.5],"nice":false,"zero":false}},
  "detail":{"field":"a","type":"nominal"}}},
{"data":{"name":"cheads"},"mark":{"type":"point","shape":"M0,0L0.55,2L-0.55,2Z","filled":true,"color":"#000000","size":130,"opacity":1,"strokeWidth":0},
 "encoding":{
  "x":{"field":"i","type":"quantitative","title":null,"scale":{"domain":[-0.75,176.9],"nice":false,"zero":false}},
  "y":{"field":"v","type":"quantitative","title":null,"scale":{"domain":[-302,324.5],"nice":false,"zero":false}},
  "angle":{"field":"ang","type":"quantitative","scale":null}}}
]
}
]
}
